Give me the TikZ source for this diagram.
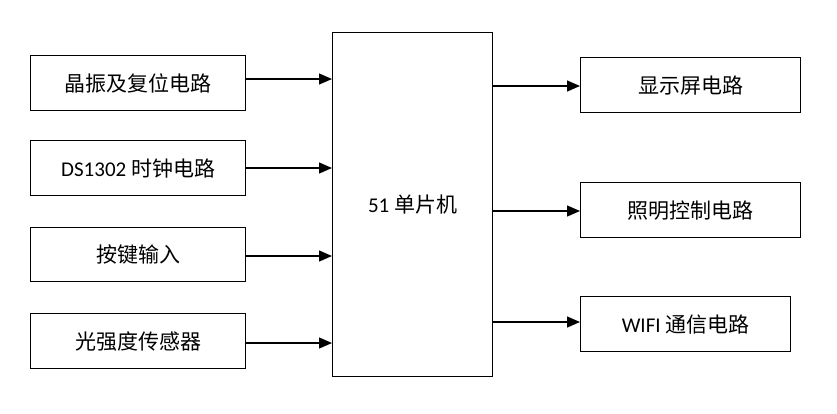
\documentclass[tikz,border=0pt]{standalone}
\usepackage{fontspec}
\setmainfont{Carlito}
\newfontfamily\cjk{Noto Sans CJK SC}
\usetikzlibrary{arrows.meta}
\begin{document}
\begin{tikzpicture}[x=1pt,y=-1pt,
  box/.style={draw,line width=1.2pt,anchor=north west,inner sep=0pt,font=\fontsize{21}{24}\selectfont},
  arr/.style={line width=1.2pt,-{Triangle[length=13pt,width=11pt]}}]
\useasboundingbox (0,0) rectangle (837,413);
\node[box,minimum width=215pt,minimum height=55pt] (l1) at (30,55) {{\cjk 晶振及复位电路}};
\node[box,minimum width=215pt,minimum height=55pt] (l2) at (30,140) {DS1302 {\cjk 时钟电路}};
\node[box,minimum width=215pt,minimum height=54pt] (l3) at (30,227) {{\cjk 按键输入}};
\node[box,minimum width=215pt,minimum height=55pt] (l4) at (30,313) {{\cjk 光强度传感器}};
\node[box,minimum width=160pt,minimum height=344pt] (c) at (332,32) {51 {\cjk 单片机}};
\node[box,minimum width=220pt,minimum height=55pt] (r1) at (580,57) {{\cjk 显示屏电路}};
\node[box,minimum width=220pt,minimum height=55pt] (r2) at (580,182) {{\cjk 照明控制电路}};
\node[box,minimum width=210pt,minimum height=55pt] (r3) at (580,296) {WIFI {\cjk 通信电路}};
\draw[arr] (l1.east |- 0,79) -- (c.west |- 0,79);
\draw[arr] (l2.east |- 0,168) -- (c.west |- 0,168);
\draw[arr] (l3.east |- 0,256) -- (c.west |- 0,256);
\draw[arr] (l4.east |- 0,343) -- (c.west |- 0,343);
\draw[arr] (c.east |- 0,86) -- (r1.west |- 0,86);
\draw[arr] (c.east |- 0,211) -- (r2.west |- 0,211);
\draw[arr] (c.east |- 0,322) -- (r3.west |- 0,322);
\end{tikzpicture}
\end{document}
